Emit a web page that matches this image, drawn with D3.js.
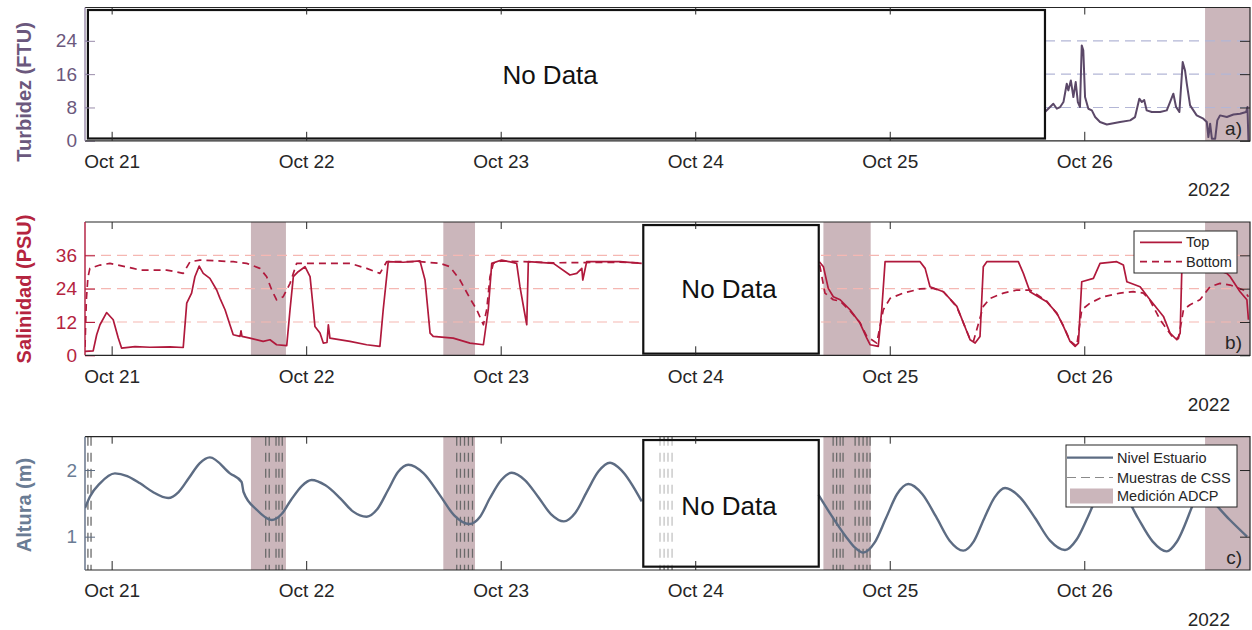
<!DOCTYPE html>
<html>
<head>
<meta charset="utf-8">
<script src="https://cdn.jsdelivr.net/npm/d3@7"></script>
<style>
  body { margin: 0; background: #fff; }
  text { font-family: "Liberation Sans", Arial, Helvetica, sans-serif; }
</style>
</head>
<body>
<svg id="fig" width="1252" height="630"></svg>
<script>
// ---------- data (time as fractional day of October 2022, UTC) ----------
const timeStart = 20.863, timeEnd = 26.852;

const xTickDays = [21, 22, 23, 24, 25, 26];
const yTicksTurb = [0, 8, 16, 24];
const yTicksSal = [0, 12, 24, 36];
const yTicksTide = [1, 2];
const yearLabel = "2022";

// Turbidity (FTU)
const turbDay = [25.798, 25.815, 25.841, 25.859, 25.876, 25.893, 25.910, 25.918, 25.931, 25.944,
  25.956, 25.967, 25.978, 25.987, 25.995, 26.004, 26.021, 26.039, 26.056, 26.081,
  26.116, 26.150, 26.184, 26.236, 26.261, 26.283, 26.296, 26.308, 26.321, 26.347,
  26.390, 26.424, 26.441, 26.458, 26.472, 26.489, 26.506, 26.518, 26.527, 26.544,
  26.578, 26.612, 26.630, 26.638, 26.647, 26.656, 26.673, 26.684, 26.698, 26.733,
  26.767, 26.801, 26.832, 26.839, 26.844];
const turbFTU = [6.9, 7.7, 8.9, 7.7, 8.1, 9.3, 13.7, 12.1, 14.5, 10.5,
  14.1, 9.3, 8.1, 22.9, 21.7, 10.5, 7.7, 7.3, 5.7, 4.5,
  3.9, 4.2, 4.5, 4.9, 5.7, 10.1, 9.3, 9.8, 7.3, 6.9,
  6.9, 7.3, 9.3, 11.3, 8.1, 6.9, 18.9, 16.9, 13.7, 8.5,
  6.1, 5.3, 4.5, 0.9, 4.1, 0.5, 0.5, 4.9, 6.1, 5.7,
  6.3, 6.5, 6.9, 8.1, 0.0];

// Salinity, surface sensor (PSU); null marks the gap in the record
const salTopDay = [20.863, 20.905, 20.923, 20.940, 20.974, 21.008, 21.034, 21.051, 21.120, 21.197,
  21.300, 21.368, 21.386, 21.411, 21.428, 21.450, 21.471, 21.505, 21.540, 21.557,
  21.583, 21.608, 21.625, 21.660, 21.665, 21.670, 21.711, 21.779, 21.814, 21.848,
  21.900, 21.917, 21.934, 21.959, 21.994, 22.020, 22.037, 22.045, 22.071, 22.088,
  22.107, 22.114, 22.122, 22.225, 22.311, 22.379, 22.396, 22.422, 22.500, 22.585,
  22.611, 22.637, 22.653, 22.756, 22.842, 22.911, 22.936, 22.954, 23.005, 23.082,
  23.099, 23.120, 23.134, 23.142, 23.271, 23.356, 23.391, 23.417, 23.422, 23.442,
  23.613, 23.725, 24.180, 24.638, 24.659, 24.684, 24.710, 24.745, 24.796, 24.847,
  24.882, 24.899, 24.941, 24.959, 24.976, 25.156, 25.182, 25.207, 25.276, 25.345,
  25.413, 25.439, 25.464, 25.481, 25.499, 25.661, 25.687, 25.721, 25.807, 25.859,
  25.893, 25.927, 25.953, 25.970, 25.987, 26.047, 26.081, 26.167, 26.201, 26.219,
  26.287, 26.338, 26.407, 26.441, 26.476, 26.493, 26.501, 26.518, 26.595, 26.673,
  26.733, 26.750, 26.801, 26.836, 26.844];
const salTopPSU = [1.4, 1.6, 7.4, 11.0, 15.4, 12.8, 6.2, 2.6, 3.1, 2.9,
  3.0, 2.8, 18.8, 22.4, 28.3, 32.1, 29.5, 27.7, 23.5, 20.5,
  16.4, 11.0, 7.4, 6.8, 8.8, 6.8, 6.2, 5.0, 5.6, 3.8,
  3.5, 16.4, 28.3, 30.1, 31.9, 28.3, 16.4, 10.4, 8.0, 4.4,
  4.6, 11.0, 6.2, 5.0, 3.8, 3.2, 16.4, 33.7, 33.5, 34.0,
  27.1, 8.0, 6.8, 6.2, 4.4, 3.8, 16.4, 33.1, 34.3, 33.1,
  24.7, 16.4, 11.0, 33.7, 33.1, 28.9, 29.5, 31.3, 27.1, 33.7,
  33.7, 33.1, null, 33.7, 31.9, 24.1, 21.1, 20.0, 16.4, 11.6,
  6.2, 3.8, 3.2, 16.4, 33.7, 33.7, 31.3, 24.7, 22.9, 17.6,
  5.6, 4.4, 6.8, 31.9, 33.7, 33.7, 29.5, 22.9, 19.3, 15.2,
  10.4, 5.0, 3.2, 4.4, 26.5, 27.7, 33.1, 33.7, 32.5, 26.5,
  24.7, 20.0, 14.0, 8.0, 5.6, 8.0, 29.5, 33.0, 33.0, 31.0,
  29.5, 28.3, 22.9, 20.0, 12.8];

// Salinity, bottom sensor (PSU)
const salBotDay = [20.863, 20.870, 20.878, 20.888, 20.940, 20.991, 21.111, 21.146, 21.283, 21.368,
  21.403, 21.454, 21.625, 21.694, 21.762, 21.797, 21.823, 21.848, 21.882, 21.917,
  21.934, 21.951, 22.225, 22.311, 22.379, 22.414, 22.585, 22.688, 22.739, 22.791,
  22.842, 22.877, 22.911, 22.928, 22.945, 22.962, 23.005, 23.271, 23.613, 23.725,
  24.180, 24.640, 24.667, 24.710, 24.745, 24.796, 24.847, 24.882, 24.933, 24.967,
  25.002, 25.070, 25.156, 25.224, 25.276, 25.345, 25.413, 25.430, 25.481, 25.516,
  25.584, 25.653, 25.721, 25.807, 25.859, 25.893, 25.927, 25.961, 25.987, 26.030,
  26.098, 26.184, 26.252, 26.304, 26.338, 26.390, 26.458, 26.484, 26.510, 26.544,
  26.595, 26.647, 26.698, 26.750, 26.818, 26.844];
const salBotPSU = [3.0, 20.0, 28.0, 31.3, 32.5, 33.1, 31.3, 30.7, 30.7, 29.5,
  33.7, 34.3, 33.7, 33.1, 31.3, 28.3, 23.5, 20.0, 21.1, 25.9,
  29.5, 33.1, 33.1, 31.3, 29.5, 33.7, 33.7, 33.1, 31.9, 27.1,
  20.5, 16.4, 11.0, 16.4, 28.3, 33.1, 34.0, 33.3, 33.5, 33.2,
  null, 32.5, 22.4, 20.0, 19.5, 16.0, 11.8, 6.8, 4.4, 16.4,
  20.5, 22.4, 23.9, 24.1, 22.9, 17.4, 5.8, 5.0, 17.6, 20.5,
  22.4, 23.5, 23.5, 19.5, 15.0, 10.6, 5.2, 3.2, 16.4, 18.8,
  21.1, 22.4, 22.9, 22.4, 19.8, 12.8, 6.2, 6.0, 16.4, 18.2,
  20.0, 24.7, 25.9, 25.3, 23.5, 21.1];

// Estuary water level (m)
const tideDay = [20.863, 20.888, 20.940, 21.017, 21.080, 21.146, 21.212, 21.291, 21.344, 21.397,
  21.452, 21.505, 21.608, 21.668, 21.678, 21.747, 21.823, 21.874, 21.922, 21.977,
  22.028, 22.099, 22.174, 22.240, 22.311, 22.365, 22.421, 22.472, 22.525, 22.604,
  22.688, 22.761, 22.839, 22.894, 22.945, 23.003, 23.057, 23.124, 23.192, 23.258,
  23.325, 23.384, 23.444, 23.503, 23.562, 23.620, 23.725, 24.180,
  24.633, 24.693, 24.775, 24.820, 24.864, 24.922, 24.981, 25.038, 25.096, 25.167,
  25.238, 25.308, 25.378, 25.432, 25.485, 25.539, 25.593, 25.670, 25.747, 25.824,
  25.901, 25.959, 26.019, 26.074, 26.132, 26.205, 26.276, 26.351, 26.424, 26.475,
  26.554, 26.590, 26.626, 26.749, 26.837];
const tideLevel = [1.43, 1.60, 1.80, 1.95, 1.91, 1.80, 1.67, 1.58, 1.67, 1.88,
  2.10, 2.19, 1.95, 1.82, 1.67, 1.40, 1.25, 1.34, 1.55, 1.76,
  1.85, 1.77, 1.58, 1.38, 1.30, 1.41, 1.70, 1.97, 2.08, 1.95,
  1.62, 1.32, 1.19, 1.30, 1.58, 1.85, 1.96, 1.85, 1.60, 1.34,
  1.23, 1.36, 1.68, 1.98, 2.11, 2.00, 1.53, null,
  1.63, 1.35, 1.00, 0.84, 0.76, 0.91, 1.28, 1.64, 1.79, 1.64,
  1.30, 0.94, 0.79, 0.93, 1.27, 1.59, 1.73, 1.59, 1.28, 0.94,
  0.80, 0.95, 1.30, 1.65, 1.80, 1.65, 1.28, 0.93, 0.78, 0.92,
  1.45, 1.72, 1.63, 1.25, 1.00];

// ADCP measurement campaigns [start, end]
const adcpStart = [21.716, 22.705, 24.659, 26.621];
const adcpEnd   = [21.896, 22.868, 24.902, 26.870];

// Suspended-sediment (CSS) sample times
const cssDay = [20.878, 20.894,
  21.792, 21.810, 21.845, 21.860, 21.877,
  22.774, 22.793, 22.814, 22.834, 22.855,
  23.819, 23.840, 23.860, 23.881,
  24.709, 24.727, 24.745, 24.760, 24.822, 24.842, 24.863, 24.883, 24.899];

// Periods without records: [startDay, endDay, lowValue, highValue, labelDay, labelValue]
const gapTurb = [20.878, 25.798, 0.55, 31.4, 23.254, 16];
const gapSal  = [23.733, 24.635, 0.6, 46.9, 24.174, 24];
const gapTide = [23.733, 24.635, 0.55, 2.45, 24.174, 1.46];

// ---------- helpers ----------
const toDate = d => new Date(Date.UTC(2022, 9, 1) + (d - 1) * 864e5);
const zipSeries = (t, v) => t.map((d, i) => ({ t: toDate(d), v: v[i] }));

const svg = d3.select("#fig");
const plotLeft = 85, plotRight = 1250, plotH = 133.3;

const x = d3.scaleUtc().domain([toDate(timeStart), toDate(timeEnd)]).range([plotLeft, plotRight]);

const ink = "#262626";
const cTurb = "#5b4868", cTurbLbl = "#6b587d";
const cSal = "#b0193c", cSalLbl = "#b4243f";
const cTide = "#5d6c83", cTideLbl = "#6a7c94";
const cBand = "#cbb6bb";
const cCss = "#6a6a6a";

function panel(cfg) {
  const top = cfg.top, bottom = top + plotH;
  const y = d3.scaleLinear().domain(cfg.yDomain).range([bottom, top]);
  const g = svg.append("g");
  const clipId = "clip-" + cfg.id;
  svg.append("clipPath").attr("id", clipId)
    .append("rect").attr("x", plotLeft).attr("y", top).attr("width", plotRight - plotLeft).attr("height", plotH);
  const plot = g.append("g").attr("clip-path", `url(#${clipId})`);

  // ADCP bands
  const bands = adcpStart.map((s, i) => [s, adcpEnd[i]]).filter(cfg.bandFilter || (() => true));
  plot.selectAll("rect.band").data(bands).join("rect")
    .attr("x", d => x(toDate(d[0]))).attr("width", d => x(toDate(d[1])) - x(toDate(d[0])))
    .attr("y", top).attr("height", plotH).attr("fill", cBand);

  // horizontal dashed grid
  if (cfg.grid) {
    plot.selectAll("line.grid").data(cfg.grid.values).join("line")
      .attr("x1", plotLeft).attr("x2", plotRight)
      .attr("y1", d => y(d)).attr("y2", d => y(d))
      .attr("stroke", cfg.grid.color).attr("stroke-width", 1.1)
      .attr("stroke-dasharray", "10,6");
  }

  // CSS sampling times
  if (cfg.css) {
    plot.selectAll("line.css").data(cssDay).join("line")
      .attr("x1", d => x(toDate(d))).attr("x2", d => x(toDate(d)))
      .attr("y1", top).attr("y2", bottom)
      .attr("stroke", cCss).attr("stroke-width", 1.3).attr("stroke-dasharray", "9,7");
  }

  // data series
  cfg.series.forEach(s => {
    const line = d3.line().defined(d => d.v !== null)
      .x(d => x(d.t)).y(d => y(d.v)).curve(s.curve || d3.curveLinear);
    plot.append("path").datum(s.data).attr("d", line)
      .attr("fill", "none").attr("stroke", s.color).attr("stroke-width", s.width)
      .attr("stroke-linejoin", "round")
      .attr("stroke-dasharray", s.dash || null);
  });

  // no-data box
  const gp = cfg.gap;
  g.append("rect")
    .attr("x", x(toDate(gp[0]))).attr("width", x(toDate(gp[1])) - x(toDate(gp[0])))
    .attr("y", y(gp[3])).attr("height", y(gp[2]) - y(gp[3]))
    .attr("fill", "#fff").attr("fill-opacity", cfg.gapOpacity)
    .attr("stroke", "#111").attr("stroke-width", 2.2);
  g.append("text").attr("x", x(toDate(gp[4]))).attr("y", y(gp[5])).attr("dy", "0.36em")
    .attr("text-anchor", "middle").attr("font-size", 26).attr("fill", "#111").text("No Data");

  // axes (ticks point inward)
  const fmt = d3.utcFormat("%b %-d");
  const xb = d3.axisBottom(x).tickValues(xTickDays.map(toDate)).tickFormat(fmt)
    .tickSize(-9).tickPadding(14);
  const gxb = g.append("g").attr("transform", `translate(0,${bottom})`).call(xb);
  const xt = d3.axisTop(x).tickValues(xTickDays.map(toDate)).tickFormat("").tickSize(-7);
  const gxt = g.append("g").attr("transform", `translate(0,${top})`).call(xt);
  const yl = d3.axisLeft(y).tickValues(cfg.yTicks).tickFormat(d3.format("d")).tickSize(-10).tickPadding(8);
  const gyl = g.append("g").attr("transform", `translate(${plotLeft},0)`).call(yl);
  const yr = d3.axisRight(y).tickValues(cfg.yTicks).tickFormat("").tickSize(-10);
  const gyr = g.append("g").attr("transform", `translate(${plotRight},0)`).call(yr);
  [gxb, gxt, gyl, gyr].forEach(a => a.select(".domain").remove());
  gxb.selectAll("line").attr("stroke", ink);
  gxt.selectAll("line").attr("stroke", ink);
  gyr.selectAll("line").attr("stroke", ink);
  gyl.selectAll("line").attr("stroke", cfg.axisColor);
  gxb.selectAll("text").attr("font-size", 19).attr("fill", ink).attr("font-family", null);
  gyl.selectAll("text").attr("font-size", 19).attr("fill", cfg.labelColor).attr("font-family", null);

  // frame
  g.append("path")
    .attr("d", `M${plotLeft},${top}H${plotRight}V${bottom}H${plotLeft}`)
    .attr("fill", "none").attr("stroke", ink).attr("stroke-width", 1.2);
  g.append("line").attr("x1", plotLeft).attr("x2", plotLeft).attr("y1", top).attr("y2", bottom)
    .attr("stroke", cfg.axisColor).attr("stroke-width", 1.4);

  // y label
  g.append("text")
    .attr("transform", `translate(31,${cfg.labelY}) rotate(-90)`)
    .attr("text-anchor", "middle").attr("font-size", 20).attr("font-weight", "bold")
    .attr("fill", cfg.labelColor).text(cfg.yLabel);

  // year label
  g.append("text").attr("x", 1230).attr("y", bottom + 55.5).attr("text-anchor", "end")
    .attr("font-size", 19).attr("fill", ink).text(yearLabel);

  // panel letter
  g.append("text").attr("x", 1242).attr("y", bottom - 6).attr("text-anchor", "end")
    .attr("font-size", 19).attr("fill", ink).text(cfg.letter);

  return { g, top, bottom, y };
}

// (a) turbidity
panel({
  id: "a", top: 7.5, yDomain: [0, 32], yTicks: yTicksTurb,
  yLabel: "Turbidez (FTU)", labelY: 92, axisColor: "#9a8cab", labelColor: cTurbLbl,
  grid: { values: [8, 16, 24], color: "#b3b6d6" },
  bandFilter: b => b[0] > gapTurb[1],
  gap: gapTurb, gapOpacity: 1,
  series: [{ data: zipSeries(turbDay, turbFTU), color: cTurb, width: 2 }],
  letter: "a)"
});

// (b) salinity
const pb = panel({
  id: "b", top: 222, yDomain: [0, 48], yTicks: yTicksSal,
  yLabel: "Salinidad (PSU)", labelY: 289, axisColor: cSal, labelColor: cSalLbl,
  grid: { values: [12, 24, 36], color: "#f5b7b2" },
  gap: gapSal, gapOpacity: 1,
  series: [
    { data: zipSeries(salTopDay, salTopPSU), color: cSal, width: 1.7 },
    { data: zipSeries(salBotDay, salBotPSU), color: cSal, width: 1.7, dash: "7,5" }
  ],
  letter: "b)"
});

// (c) water level
const pc = panel({
  id: "c", top: 436.7, yDomain: [0.5, 2.5], yTicks: yTicksTide,
  yLabel: "Altura (m)", labelY: 505, axisColor: cTide, labelColor: cTideLbl,
  css: true,
  gap: gapTide, gapOpacity: 0.6,
  series: [{ data: zipSeries(tideDay, tideLevel), color: cTide, width: 2.4, curve: d3.curveMonotoneX }],
  letter: "c)"
});

// legends
function legend(g, lx, ly, w, h, rows) {
  const lg = g.append("g").attr("transform", `translate(${lx},${ly})`);
  lg.append("rect").attr("width", w).attr("height", h).attr("fill", "#fff")
    .attr("stroke", ink).attr("stroke-width", 1);
  rows.forEach(r => {
    if (r.kind === "patch") {
      lg.append("rect").attr("x", r.x0 + 3).attr("y", r.y - 7.5).attr("width", r.x1 - r.x0 - 3).attr("height", 15)
        .attr("fill", r.color);
    } else {
      lg.append("line").attr("x1", r.x0).attr("x2", r.x1).attr("y1", r.y).attr("y2", r.y)
        .attr("stroke", r.color).attr("stroke-width", r.width).attr("stroke-dasharray", r.dash || null);
    }
    lg.append("text").attr("x", r.tx).attr("y", r.y).attr("dy", "0.35em")
      .attr("font-size", 14.5).attr("fill", ink).text(r.label);
  });
}

legend(pb.g, 1134, 231, 103, 42, [
  { label: "Top", color: cSal, width: 1.8, x0: 6, x1: 48, tx: 52, y: 11.3 },
  { label: "Bottom", color: cSal, width: 1.8, dash: "7,5", x0: 6, x1: 48, tx: 52, y: 30.7 }
]);

legend(pc.g, 1066, 445, 171, 62, [
  { label: "Nivel Estuario", color: cTide, width: 2.2, x0: 1, x1: 47, tx: 51, y: 12.7 },
  { label: "Muestras de CSS", color: "#8a8a8a", width: 1.2, dash: "9,5", x0: 1, x1: 47, tx: 51, y: 32.5 },
  { label: "Medición ADCP", kind: "patch", color: cBand, x0: 1, x1: 47, tx: 51, y: 51 }
]);
</script>
</body>
</html>
